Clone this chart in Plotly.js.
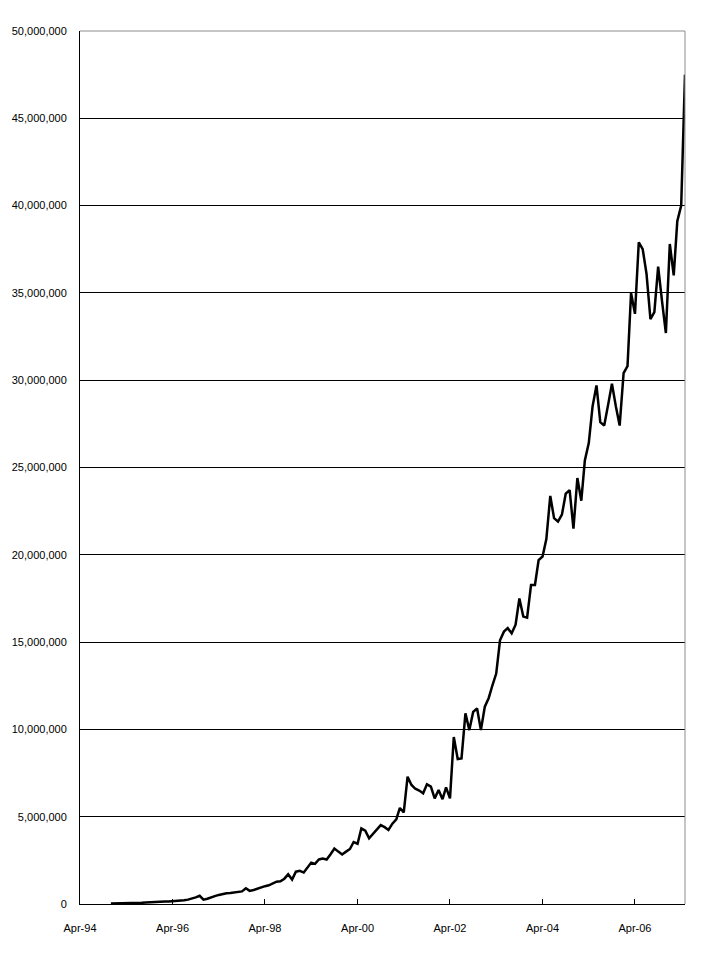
<!DOCTYPE html>
<html>
<head>
<meta charset="utf-8">
<script src="https://cdn.plot.ly/plotly-3.0.1.min.js"></script>
<style>
  html, body { margin: 0; padding: 0; background: #ffffff; }
  #chart { width: 720px; height: 960px; }
</style>
</head>
<body>
<div id="chart"></div>
<script>
// First month of the series (Dec-1994), monthly observations
const startYear = 1994;
const startMonth = 12; // December

// Monthly values in millions, Dec-94 .. May-07
const valuesMillions = [
  0.03, 0.03, 0.04, 0.04, 0.05, 0.05, 0.06, 0.06, 0.07, 0.08,
  0.10, 0.12, 0.12, 0.13, 0.14, 0.15, 0.16, 0.18, 0.20, 0.22,
  0.25, 0.30, 0.38, 0.47, 0.25, 0.30, 0.36, 0.45, 0.52, 0.58,
  0.62, 0.63, 0.66, 0.70, 0.72, 0.90, 0.75, 0.80, 0.88, 0.97,
  1.02, 1.07, 1.20, 1.28, 1.30, 1.45, 1.70, 1.40, 1.85, 1.90,
  1.80, 2.05, 2.37, 2.30, 2.55, 2.60, 2.55, 2.85, 3.18, 3.00,
  2.84, 3.00, 3.15, 3.55, 3.45, 4.33, 4.20, 3.76, 4.00, 4.24,
  4.52, 4.40, 4.24, 4.60, 4.85, 5.50, 5.25, 7.29, 6.82, 6.60,
  6.50, 6.34, 6.86, 6.72, 6.05, 6.53, 6.00, 6.68, 6.05, 9.56,
  8.30, 8.34, 10.92, 9.96, 11.00, 11.20, 9.96, 11.30, 11.80, 12.50,
  13.20, 15.10, 15.60, 15.80, 15.50, 16.00, 17.50, 16.46, 16.40, 18.27,
  18.27, 19.70, 19.90, 20.90, 23.37, 22.10, 21.90, 22.30, 23.50, 23.70,
  21.50, 24.40, 23.10, 25.40, 26.40, 28.50, 29.70, 27.60, 27.40, 28.60,
  29.80, 28.50, 27.40, 30.40, 30.80, 35.00, 33.80, 37.90, 37.50, 36.10,
  33.50, 33.90, 36.50, 34.50, 32.70, 37.80, 36.00, 39.10, 40.00, 47.50
];

const xTickVals = ['1994-04-01', '1996-04-01', '1998-04-01', '2000-04-01', '2002-04-01', '2004-04-01', '2006-04-01'];
const xTickText = ['Apr-94', 'Apr-96', 'Apr-98', 'Apr-00', 'Apr-02', 'Apr-04', 'Apr-06'];
const yTickVals = [0, 5000000, 10000000, 15000000, 20000000, 25000000, 30000000, 35000000, 40000000, 45000000, 50000000];

function pad(n) { return (n < 10 ? '0' : '') + n; }
const dates = valuesMillions.map(function (_, i) {
  const total = (startYear * 12 + (startMonth - 1)) + i;
  const y = Math.floor(total / 12);
  const m = total % 12 + 1;
  return y + '-' + pad(m) + '-01';
});
const values = valuesMillions.map(function (v) { return v * 1e6; });

const fontFam = '"Liberation Sans", Arial, sans-serif';

const trace = {
  x: dates,
  y: values,
  type: 'scatter',
  mode: 'lines',
  line: { color: '#000000', width: 2.5 },
  hoverinfo: 'skip'
};

const layout = {
  width: 720,
  height: 960,
  margin: { l: 80, r: 35, t: 31, b: 56 },
  paper_bgcolor: '#ffffff',
  plot_bgcolor: '#ffffff',
  showlegend: false,
  font: { family: fontFam, size: 11, color: '#000000' },
  xaxis: {
    type: 'date',
    range: ['1994-04-01', '2007-05-01'],
    tickvals: xTickVals,
    ticktext: xTickText,
    ticks: 'inside',
    ticklen: 5,
    tickwidth: 1,
    tickcolor: '#000000',
    showgrid: false,
    zeroline: false,
    showline: true,
    linecolor: '#000000',
    linewidth: 1,
    ticklabelstandoff: 14,
    tickfont: { family: fontFam, size: 11, color: '#000000' }
  },
  yaxis: {
    range: [0, 50000000],
    tickvals: yTickVals,
    tickformat: ',d',
    ticks: '',
    showgrid: true,
    gridcolor: '#000000',
    gridwidth: 1,
    zeroline: false,
    showline: true,
    linecolor: '#000000',
    linewidth: 1,
    ticklabelstandoff: 10,
    tickfont: { family: fontFam, size: 11, color: '#000000' }
  },
  shapes: [
    { type: 'line', xref: 'paper', yref: 'paper', x0: 0, x1: 1, y0: 1, y1: 1,
      line: { color: '#8c8c8c', width: 1 }, layer: 'above' },
    { type: 'line', xref: 'paper', yref: 'paper', x0: 1, x1: 1, y0: 0, y1: 1,
      line: { color: '#8c8c8c', width: 1 }, layer: 'above' }
  ]
};

Plotly.newPlot('chart', [trace], layout, { displayModeBar: false, staticPlot: true });
</script>
</body>
</html>
